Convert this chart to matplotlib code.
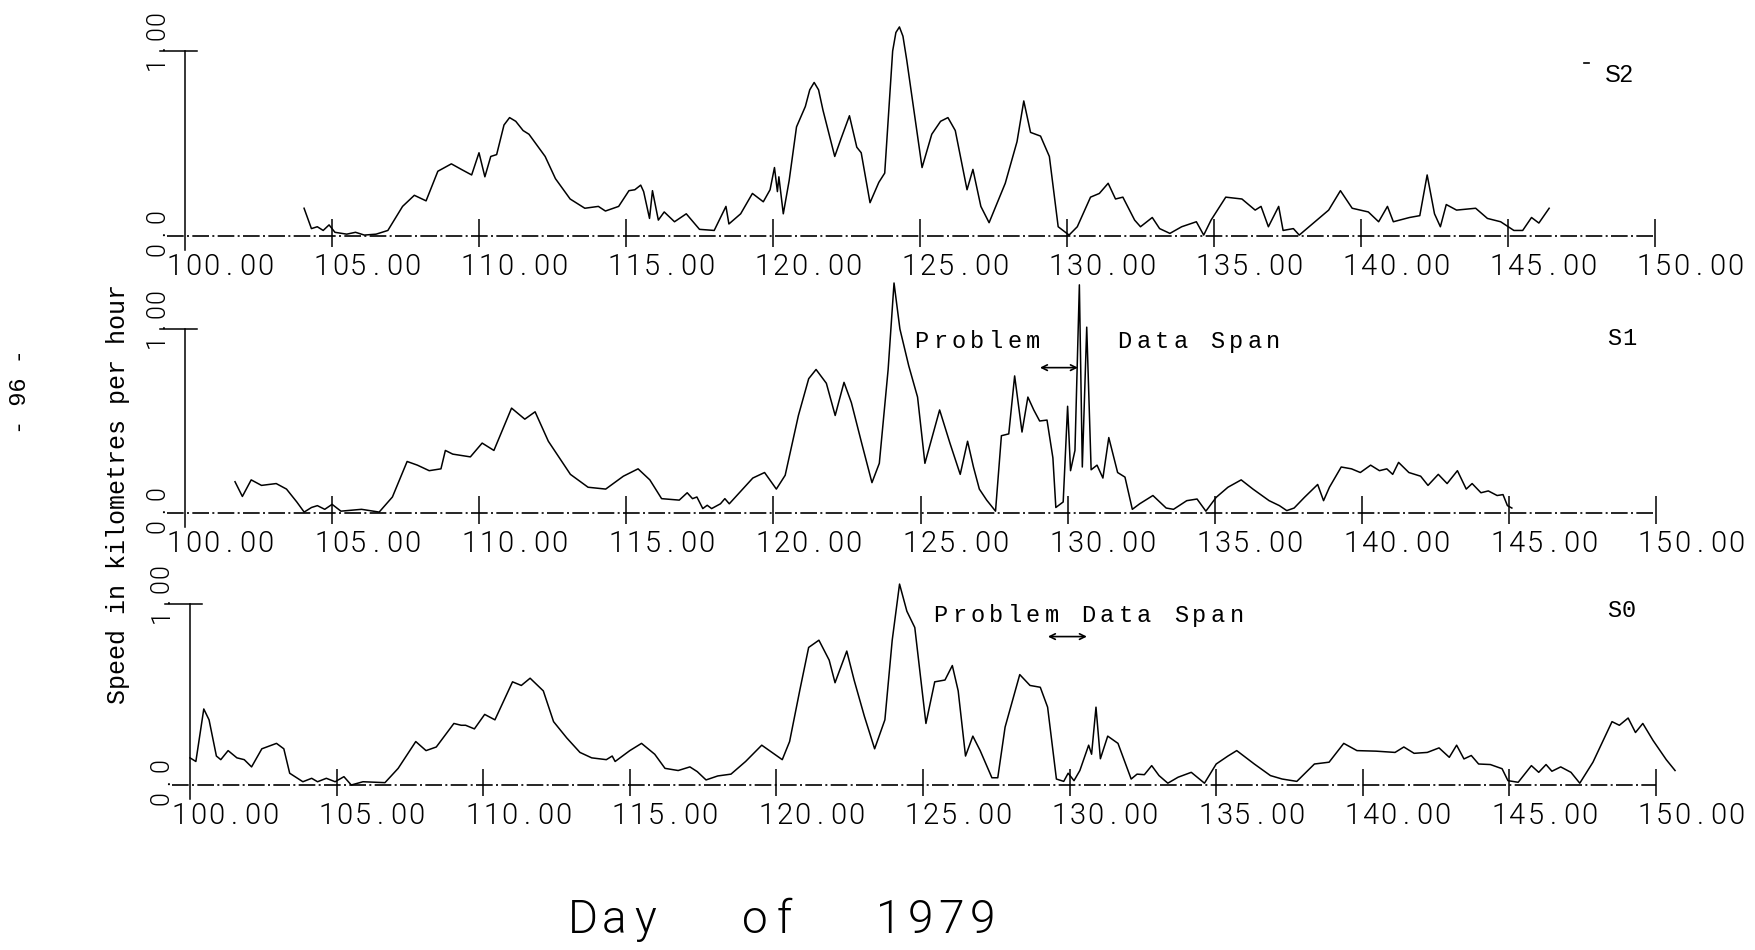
import matplotlib
matplotlib.use("Agg")
import matplotlib.pyplot as plt
from matplotlib import font_manager as fm
from matplotlib.transforms import Affine2D, offset_copy

# ---------------- data ----------------
s2_day = [104.05, 104.3, 104.5, 104.7, 104.9, 105.1, 105.5, 105.8, 106.1, 106.5,
          106.9, 107.4, 107.8, 108.2, 108.6, 109.06, 109.4, 109.75, 110.0, 110.2,
          110.4, 110.6, 110.85, 111.04, 111.25, 111.5, 111.7, 112.25, 112.6, 113.1, 113.6, 114.06,
          114.3, 114.75, 115.1, 115.3, 115.5, 115.6, 115.8, 115.9, 116.1, 116.3,
          116.65, 117.05, 117.5, 118.0, 118.2, 118.4, 118.5, 118.9, 119.3, 119.67,
          119.9, 120.05, 120.15, 120.2, 120.35, 120.55, 120.8, 121.1, 121.25, 121.4, 121.55, 121.7,
          122.1, 122.3, 122.6, 122.85, 123.0, 123.3, 123.6, 123.8, 124.07, 124.18, 124.3, 124.42,
          124.55, 125.07, 125.4, 125.7, 125.95, 126.2, 126.6, 126.8, 127.07, 127.35, 127.9,
          128.3, 128.53, 128.76, 129.1, 129.4, 129.7, 130.07, 130.35, 130.8, 131.1,
          131.4, 131.65, 131.9, 132.3, 132.5, 132.9, 133.15, 133.5, 133.9, 134.4,
          134.65, 134.9, 135.4, 135.95, 136.4, 136.6, 136.85, 137.2, 137.35, 137.7,
          137.9, 138.5, 138.9, 139.3, 139.7, 140.25, 140.6, 140.9, 141.1, 141.65,
          142.0, 142.25, 142.5, 142.7, 142.9, 143.25, 143.9, 144.3, 144.75, 145.2,
          145.5, 145.8, 146.05, 146.4]
s2_speed = [0.15, 0.04, 0.05, 0.03, 0.06, 0.02, 0.01, 0.02, 0.005, 0.01,
            0.03, 0.16, 0.22, 0.19, 0.35, 0.39, 0.36, 0.33, 0.45, 0.32,
            0.43, 0.44, 0.60, 0.64, 0.62, 0.57, 0.55, 0.43, 0.31, 0.20, 0.15, 0.16,
            0.135, 0.16, 0.245, 0.25, 0.275, 0.24, 0.095, 0.245, 0.086, 0.13,
            0.077, 0.12, 0.036, 0.03, 0.095, 0.16, 0.065, 0.12, 0.23, 0.185,
            0.25, 0.37, 0.24, 0.32, 0.12, 0.30, 0.59, 0.70, 0.79, 0.83, 0.79, 0.68,
            0.43, 0.52, 0.65, 0.48, 0.45, 0.18, 0.29, 0.34, 1.0, 1.10, 1.13, 1.08,
            0.95, 0.37, 0.55, 0.62, 0.64, 0.57, 0.25, 0.36, 0.16, 0.072, 0.285,
            0.51, 0.73, 0.56, 0.54, 0.43, 0.05, 0.005, 0.05, 0.21, 0.23,
            0.285, 0.2, 0.21, 0.086, 0.05, 0.1, 0.04, 0.014, 0.05, 0.077,
            0.005, 0.086, 0.21, 0.2, 0.14, 0.16, 0.05, 0.16, 0.03, 0.04,
            0.005, 0.086, 0.14, 0.245, 0.15, 0.13, 0.077, 0.16, 0.077, 0.1,
            0.11, 0.33, 0.12, 0.05, 0.17, 0.14, 0.15, 0.095, 0.077, 0.03,
            0.03, 0.1, 0.07, 0.15]

s1_day = [101.7, 101.95, 102.25, 102.6, 103.1, 103.45, 103.8, 104.05, 104.3, 104.5,
          104.75, 105.0, 105.3, 106.0, 106.6, 107.05, 107.55, 107.9, 108.3, 108.7,
          108.85, 109.1, 109.7, 110.1, 110.5, 111.1, 111.55, 111.9, 112.35, 112.6,
          113.1, 113.7, 114.3, 114.9, 115.4, 115.8, 116.2, 116.8, 117.07, 117.25,
          117.4, 117.6, 117.75, 117.9, 118.2, 118.35, 118.5, 118.9, 119.3, 119.7,
          120.1, 120.4, 120.85, 121.2, 121.45, 121.8, 122.1, 122.4, 122.65, 123.0,
          123.35, 123.6, 123.9, 124.1, 124.3, 124.6, 124.9, 125.15, 125.65, 126.0,
          126.35, 126.6, 126.8, 127.0, 127.25, 127.55, 127.75, 128.0, 128.2, 128.45,
          128.65, 128.85, 129.05, 129.3, 129.5, 129.6, 129.85, 130.0, 130.1, 130.25,
          130.4, 130.5, 130.65, 130.8, 131.0, 131.2, 131.4, 131.7, 131.95, 132.2,
          132.45, 132.9, 133.35, 133.6, 134.05, 134.4, 134.7, 135.05, 135.45, 135.9,
          136.3, 136.85, 137.2, 137.45, 137.7, 138.05, 138.5, 138.7, 138.9, 139.3,
          139.65, 139.95, 140.3, 140.6, 140.85, 141.05, 141.25, 141.6, 142.0, 142.25,
          142.6, 142.9, 143.25, 143.55, 143.75, 144.05, 144.3, 144.6, 144.8, 144.95,
          145.1]
s1_speed = [0.17, 0.09, 0.18, 0.15, 0.16, 0.13, 0.06, 0.005, 0.03, 0.04,
            0.02, 0.047, 0.01, 0.02, 0.005, 0.087, 0.28, 0.26, 0.23, 0.24,
            0.34, 0.32, 0.305, 0.38, 0.34, 0.57, 0.51, 0.55, 0.39, 0.33,
            0.21, 0.14, 0.13, 0.2, 0.24, 0.18, 0.078, 0.07, 0.11, 0.078,
            0.087, 0.024, 0.042, 0.024, 0.05, 0.078, 0.05, 0.12, 0.19, 0.22,
            0.13, 0.205, 0.53, 0.73, 0.78, 0.705, 0.53, 0.71, 0.6, 0.38,
            0.165, 0.27, 0.78, 1.25, 1.0, 0.8, 0.63, 0.27, 0.56, 0.38,
            0.21, 0.39, 0.25, 0.13, 0.07, 0.01, 0.42, 0.43, 0.745, 0.44,
            0.63, 0.56, 0.50, 0.505, 0.30, 0.03, 0.06, 0.58, 0.23, 0.34,
            1.24, 0.25, 1.01, 0.235, 0.26, 0.19, 0.41, 0.22, 0.195, 0.02,
            0.05, 0.095, 0.027, 0.02, 0.067, 0.076, 0.01, 0.085, 0.14, 0.18,
            0.13, 0.067, 0.04, 0.013, 0.027, 0.085, 0.155, 0.067, 0.14, 0.25,
            0.24, 0.22, 0.26, 0.23, 0.24, 0.21, 0.275, 0.22, 0.2, 0.15,
            0.21, 0.16, 0.23, 0.13, 0.16, 0.11, 0.12, 0.095, 0.1, 0.04,
            0.027]

s0_day = [100.0, 100.2, 100.47, 100.65, 100.9, 101.05, 101.3, 101.6, 101.85, 102.1,
          102.45, 102.95, 103.2, 103.4, 103.85, 104.15, 104.35, 104.65, 104.95, 105.25,
          105.5, 105.9, 106.65, 107.1, 107.7, 108.05, 108.4, 109.0, 109.25, 109.4,
          109.7, 110.05, 110.4, 111.0, 111.3, 111.6, 112.05, 112.4, 112.85, 113.3,
          113.7, 114.2, 114.4, 114.5, 115.0, 115.4, 115.85, 116.2, 116.65, 117.05,
          117.3, 117.6, 118.0, 118.45, 118.95, 119.5, 119.85, 120.2, 120.45, 120.8,
          121.1, 121.45, 121.8, 122.0, 122.4, 122.65, 123.0, 123.35, 123.7, 123.95,
          124.2, 124.45, 124.72, 125.1, 125.4, 125.75, 126.0, 126.2, 126.45, 126.7,
          126.95, 127.35, 127.55, 127.8, 128.3, 128.65, 129.0, 129.25, 129.55, 129.8,
          129.95, 130.15, 130.35, 130.65, 130.75, 130.9, 131.05, 131.3, 131.65, 132.1,
          132.3, 132.55, 132.8, 133.05, 133.35, 133.7, 134.15, 134.6, 135.0, 135.4,
          135.7, 136.3, 136.85, 137.25, 137.75, 138.35, 138.85, 139.35, 139.8, 140.45,
          141.1, 141.4, 141.75, 142.2, 142.6, 142.95, 143.2, 143.45, 143.7, 143.95,
          144.35, 144.75, 144.95, 145.3, 145.75, 146.0, 146.25, 146.45, 146.75, 147.1,
          147.4, 147.85, 148.5, 148.75, 149.05, 149.3, 149.55, 149.9, 150.35, 150.65]
s0_speed = [0.15, 0.13, 0.42, 0.36, 0.16, 0.14, 0.19, 0.15, 0.14, 0.10,
            0.20, 0.23, 0.20, 0.065, 0.018, 0.037, 0.018, 0.037, 0.018, 0.046,
            0.0, 0.018, 0.013, 0.092, 0.24, 0.19, 0.21, 0.34, 0.33, 0.33,
            0.31, 0.39, 0.36, 0.57, 0.55, 0.59, 0.52, 0.35, 0.26, 0.18,
            0.15, 0.14, 0.16, 0.13, 0.19, 0.23, 0.17, 0.092, 0.08, 0.1,
            0.074, 0.028, 0.05, 0.06, 0.13, 0.22, 0.18, 0.14, 0.24, 0.525,
            0.76, 0.80, 0.69, 0.565, 0.74, 0.58, 0.38, 0.20, 0.36, 0.80,
            1.11, 0.96, 0.87, 0.34, 0.57, 0.58, 0.66, 0.52, 0.16, 0.27,
            0.19, 0.04, 0.04, 0.32, 0.61, 0.55, 0.54, 0.43, 0.033, 0.02,
            0.065, 0.024, 0.08, 0.22, 0.17, 0.43, 0.145, 0.27, 0.23, 0.033,
            0.06, 0.057, 0.107, 0.052, 0.01, 0.043, 0.07, 0.01, 0.116, 0.16,
            0.19, 0.116, 0.052, 0.033, 0.02, 0.116, 0.126, 0.23, 0.19, 0.187,
            0.18, 0.21, 0.175, 0.18, 0.205, 0.153, 0.22, 0.144, 0.163, 0.116,
            0.113, 0.09, 0.024, 0.015, 0.107, 0.07, 0.113, 0.076, 0.1, 0.07,
            0.01, 0.126, 0.35, 0.33, 0.37, 0.29, 0.34, 0.246, 0.14, 0.08]

tick_days = [100, 105, 110, 115, 120, 125, 130, 135, 140, 145, 150]
tick_labels = ["100.00", "105.00", "110.00", "115.00", "120.00", "125.00",
               "130.00", "135.00", "140.00", "145.00", "150.00"]
y_labels = ["0.0", "1.00"]
panel_names = ["S2", "S1", "S0"]
y_title = "Speed in kilometres per hour"
x_title = ["Day", "of", "1979"]
page_no = "- 96 -"
note_words = ["Problem", "Data Span"]
arrow_span = {"S1": (129.06, 130.35, 0.79), "S0": (129.26, 130.59, 0.82)}

# ---------------- fonts ----------------
def pick_font(fams, target=300):
    best, score = None, None
    for f in fm.fontManager.ttflist:
        if f.name in fams and f.style == "normal" and str(f.stretch) in ("normal", "400"):
            w = f.weight if isinstance(f.weight, (int, float)) else fm.weight_dict.get(f.weight, 400)
            sc = (abs(w - target), fams.index(f.name))
            if score is None or sc < score:
                best, score = f, sc
    if best is None:
        return fm.FontProperties(family="DejaVu Sans")
    return fm.FontProperties(fname=best.fname)

LIGHT = pick_font(["Roboto", "Open Sans", "Lato", "Inter"], 300)
MONO = fm.FontProperties(family=["Liberation Mono", "DejaVu Sans Mono"])
SANS = fm.FontProperties(family=["Liberation Sans", "DejaVu Sans"])

def fp(base, size):
    p = base.copy()
    p.set_size(size)
    return p

# ---------------- figure ----------------
W, H = 1756, 950
fig = plt.figure(figsize=(W / 100, H / 100), dpi=100)
fig.patch.set_facecolor("white")
PX = Affine2D().scale(1, -1).translate(0, H)   # pixel coords, origin top-left

def spaced(tr, x, y, s, pitch, prop, dx=0, dy=0, rot=0):
    for i, ch in enumerate(s):
        if ch == " ":
            continue
        if rot == 0:
            ox, oy = dx + i * pitch, dy
        else:
            ox, oy = dx, dy + i * pitch
        t = offset_copy(tr, fig=fig, x=ox, y=oy, units="dots")
        fig.text(x, y, ch, transform=t, ha="center", va="baseline",
                 rotation=rot, rotation_mode="anchor", fontproperties=prop,
                 color="black")

LW = 1.1
K = "black"
# panel layout in pixels: x of day 100, x of day 150, baseline y, y of 1.00
layout = {"S2": (185, 1655, 236, 51), "S1": (185, 1656, 513, 329), "S0": (190, 1656, 785, 604)}
series = {"S2": (s2_day, s2_speed), "S1": (s1_day, s1_speed), "S0": (s0_day, s0_speed)}

tick_fp = fp(LIGHT, 21)
ylab_fp = fp(LIGHT, 18)
note_fp = fp(MONO, 17)

for name in panel_names:
    x0, x1, base, top = layout[name]
    ax = fig.add_axes([x0 / W, 1 - base / H, (x1 - x0) / W, (base - top) / H])
    ax.set_xlim(tick_days[0], tick_days[-1])
    ax.set_ylim(0, 1)
    ax.axis("off")

    d, v = series[name]
    ax.plot(d, v, color=K, lw=LW, clip_on=False, solid_joinstyle="round")
    # baseline (dash-dot)
    ax.plot([99.4, tick_days[-1]], [0, 0], color=K, lw=1.2, clip_on=False,
            ls=(0, (10, 2, 1.2, 2)))
    # y axis with top tick
    ax.plot([tick_days[0], tick_days[0]], [-0.075, 1.0], color=K, lw=LW, clip_on=False)
    ax.plot([99.15, 100.4], [1.0, 1.0], color=K, lw=LW, clip_on=False)
    ax.vlines(tick_days[1:], -0.06, 0.09, color=K, lw=LW, clip_on=False)

    # x tick labels
    for td, tl in zip(tick_days, tick_labels):
        spaced(ax.transData, td, 0, tl, 18, tick_fp, dx=-10, dy=-39)
    # y labels (rotated, reading upward)
    spaced(ax.transData, tick_days[0], 0, y_labels[0], 16.5, ylab_fp, dx=-21, dy=-13.5, rot=90)
    spaced(ax.transData, tick_days[0], 1, y_labels[1], 15, ylab_fp, dx=-21, dy=-12, rot=90)

    if name == "S2":
        fig.text(1605, 82, name, transform=PX, ha="left", va="baseline",
                 fontproperties=fp(SANS, 17), color=K)
        fig.add_artist(plt.Line2D([1584 / W, 1589 / W], [1 - 63 / H, 1 - 63 / H],
                                  color=K, lw=1.2))
    else:
        bl = 345 if name == "S1" else 617
        spaced(PX, 1614, bl, name, 15, fp(MONO, 17))
        a0, a1, ay = arrow_span[name]
        ax.annotate("", xy=(a0, ay), xytext=(a1, ay),
                    arrowprops=dict(arrowstyle="<->", color=K, lw=1.2,
                                    shrinkA=0, shrinkB=0, mutation_scale=10),
                    annotation_clip=False)

# annotations "Problem Data Span"
spaced(PX, 921.5, 348, note_words[0], 18.6, note_fp)
spaced(PX, 1124.5, 348, note_words[1], 18.6, note_fp)
spaced(PX, 940.5, 622, note_words[0] + " " + note_words[1], 18.5, note_fp)

# axis titles
fig.text(118, 494, y_title, transform=PX, rotation=90, ha="center", va="center",
         fontproperties=fp(MONO, 18), color=K)
fig.text(20, 392, page_no, transform=PX, rotation=90, ha="center", va="center",
         fontproperties=fp(MONO, 17), color=K)
big = fp(LIGHT, 33)
spaced(PX, 583, 933, x_title[0], 31, big)
spaced(PX, 755, 933, x_title[1], 29, big)
spaced(PX, 889, 933, x_title[2], 31, big)

fig.savefig("out.png", dpi=100, facecolor="white")
